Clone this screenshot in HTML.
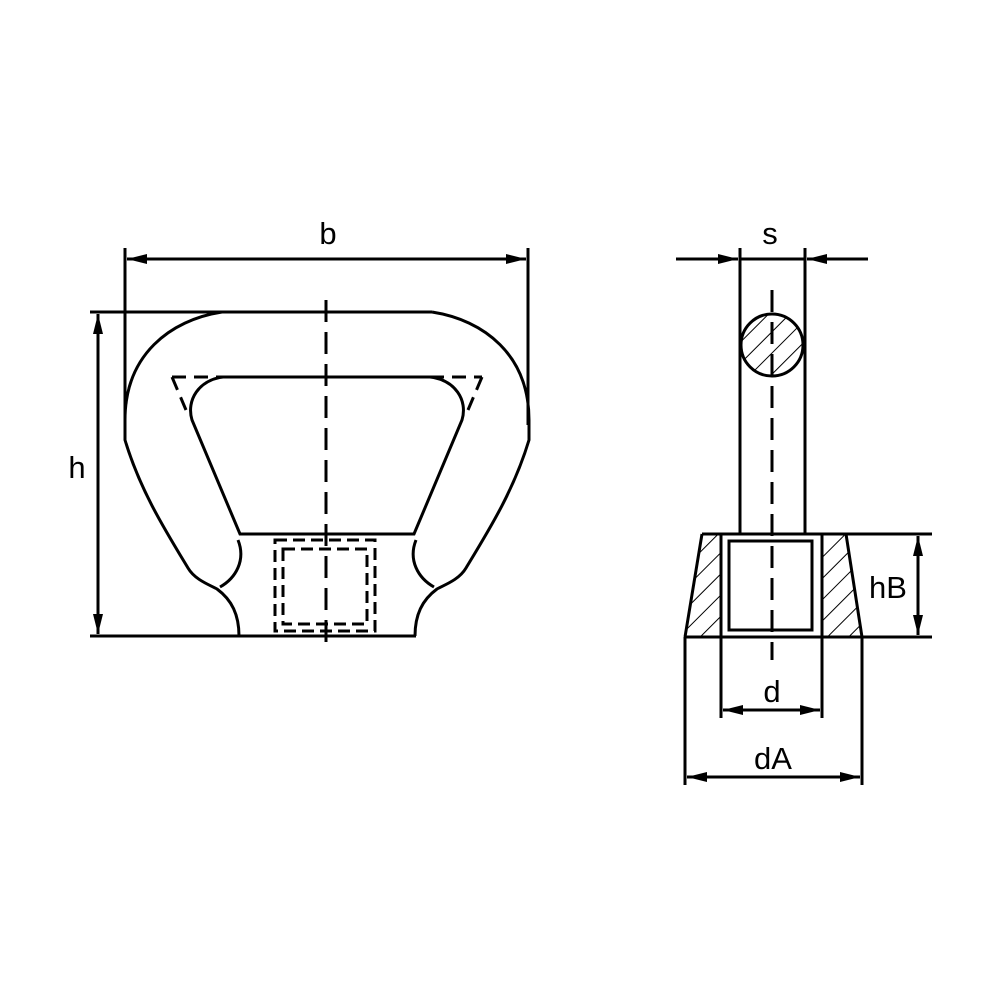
<!DOCTYPE html>
<html><head><style>body{margin:0;background:#fff}svg{display:block}text{font-family:"Liberation Sans",sans-serif;font-size:31px;fill:#000}</style></head>
<body>
<svg width="1000" height="1000" viewBox="0 0 1000 1000" xmlns="http://www.w3.org/2000/svg">
<defs>
<marker id="a" viewBox="0 0 20 10" refX="20" refY="5" markerWidth="20" markerHeight="10" markerUnits="userSpaceOnUse" orient="auto-start-reverse"><path d="M0,0 L20,5 L0,10 z" fill="#000"/></marker>
<clipPath id="cc"><circle cx="772" cy="345" r="31"/></clipPath>
<clipPath id="hl"><polygon points="702,534 721,534 721,637 685,637"/></clipPath>
<clipPath id="hr"><polygon points="822,534 846,534 862,637 822,637"/></clipPath>
<pattern id="h" patternUnits="userSpaceOnUse" width="15" height="15" patternTransform="rotate(45)"><line x1="0" y1="0" x2="0" y2="15" stroke="#000" stroke-width="2"/></pattern>
</defs>
<g fill="none" stroke="#000" stroke-width="3">
<line x1="125" y1="248" x2="125" y2="425"/>
<line x1="528" y1="248" x2="528" y2="425"/>
<line x1="127" y1="259" x2="526" y2="259" marker-start="url(#a)" marker-end="url(#a)"/>
<line x1="90" y1="312" x2="432" y2="312"/>
<line x1="90" y1="636" x2="416" y2="636"/>
<line x1="98" y1="314" x2="98" y2="634" marker-start="url(#a)" marker-end="url(#a)"/>
<path d="M222,312 C170,320 125,355 125,420 L125,440 C140,490 165,530 188,568 C195,580 210,585 217,589 C232,600 239,615 239,636"/>
<path d="M432,312 C484,320 529,355 529,420 L529,440 C514,490 489,530 466,568 C459,580 444,585 437,589 C422,600 415,615 415,636"/>
<path d="M223,377 L430,377 C455,380 468,400 462,420 L414,534 L240,534 L192,420 C186,400 199,380 223,377"/>
<path d="M238,540 C246,560 236,578 220,587"/>
<path d="M416,540 C408,560 418,578 434,587"/>
<g stroke-dasharray="14,8">
<line x1="172" y1="377" x2="223" y2="377"/>
<line x1="430" y1="377" x2="482" y2="377"/>
<line x1="172" y1="377" x2="186" y2="410"/>
<line x1="482" y1="377" x2="468" y2="410"/>
</g>
<g stroke-dasharray="12,6">
<rect x="275" y="540" width="100" height="91"/>
<rect x="283" y="549" width="84" height="75"/>
</g>
<line x1="326" y1="300" x2="326" y2="652" stroke-dasharray="22,10"/>
<line x1="740" y1="248" x2="740" y2="534"/>
<line x1="805" y1="248" x2="805" y2="534"/>
<line x1="676" y1="259" x2="738" y2="259" marker-end="url(#a)"/>
<line x1="868" y1="259" x2="807" y2="259" marker-end="url(#a)"/>
<line x1="740" y1="259" x2="805" y2="259"/>
<rect x="741" y="314" width="62" height="62" fill="url(#h)" stroke="none" clip-path="url(#cc)"/>
<circle cx="772" cy="345" r="31"/>
<rect x="680" y="530" width="190" height="110" fill="url(#h)" stroke="none" clip-path="url(#hl)"/>
<rect x="680" y="530" width="190" height="110" fill="url(#h)" stroke="none" clip-path="url(#hr)"/>
<line x1="702" y1="534" x2="932" y2="534"/>
<line x1="684" y1="637" x2="932" y2="637"/>
<line x1="702" y1="534" x2="685" y2="637"/>
<line x1="846" y1="534" x2="862" y2="637"/>
<line x1="685" y1="637" x2="685" y2="785"/>
<line x1="862" y1="637" x2="862" y2="785"/>
<line x1="721" y1="534" x2="721" y2="718"/>
<line x1="822" y1="534" x2="822" y2="718"/>
<rect x="729" y="541" width="83" height="89" fill="#fff"/>
<line x1="918" y1="536" x2="918" y2="635" marker-start="url(#a)" marker-end="url(#a)"/>
<line x1="723" y1="710" x2="820" y2="710" marker-start="url(#a)" marker-end="url(#a)"/>
<line x1="687" y1="777" x2="860" y2="777" marker-start="url(#a)" marker-end="url(#a)"/>
<line x1="772" y1="290" x2="772" y2="660" stroke-dasharray="22,10"/>
</g>
<text x="328" y="244" text-anchor="middle">b</text>
<text x="77" y="478" text-anchor="middle">h</text>
<text x="770" y="244" text-anchor="middle">s</text>
<text x="888" y="598" text-anchor="middle">hB</text>
<text x="772" y="702" text-anchor="middle">d</text>
<text x="773" y="769" text-anchor="middle">dA</text>
</svg>
</body></html>
